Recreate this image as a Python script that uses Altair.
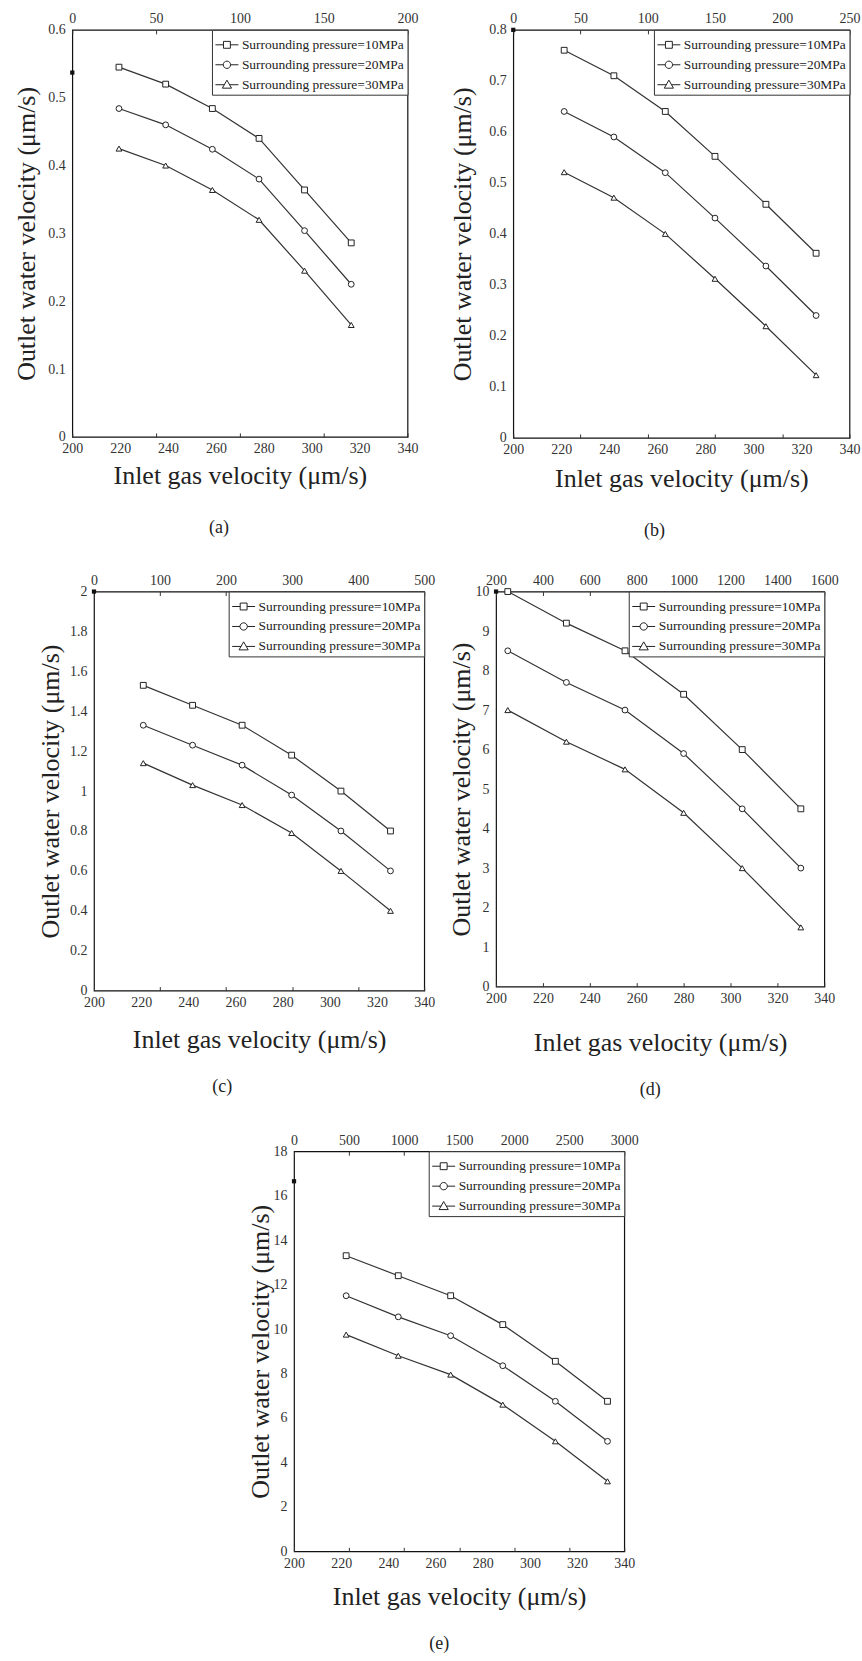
import altair as alt
import pandas as pd

FONT = "Liberation Serif"
SERIES = ["Surrounding pressure=10MPa", "Surrounding pressure=20MPa", "Surrounding pressure=30MPa"]

# ---- panel (a)
a_x = [219.5, 239, 258.5, 278, 297, 316.5]
a_p10 = [0.545, 0.520, 0.484, 0.440, 0.364, 0.286]
a_p20 = [0.484, 0.460, 0.424, 0.380, 0.304, 0.225]
a_p30 = [0.425, 0.400, 0.364, 0.320, 0.245, 0.165]
a_yticks = [0, 0.1, 0.2, 0.3, 0.4, 0.5, 0.6]
a_top = [0, 50, 100, 150, 200]
a_dot = 0.537

# ---- panel (b)
b_x = [221.2, 241.9, 263.3, 284, 305.2, 326.1]
b_p10 = [0.760, 0.710, 0.640, 0.552, 0.458, 0.362]
b_p20 = [0.640, 0.590, 0.520, 0.431, 0.337, 0.240]
b_p30 = [0.521, 0.471, 0.400, 0.312, 0.219, 0.123]
b_yticks = [0, 0.1, 0.2, 0.3, 0.4, 0.5, 0.6, 0.7, 0.8]
b_top = [0, 50, 100, 150, 200, 250]
b_dot = 0.8

# ---- panel (c)
c_x = [220.9, 241.8, 262.8, 283.8, 304.7, 325.7]
c_p10 = [1.53, 1.43, 1.33, 1.18, 1.00, 0.80]
c_p20 = [1.33, 1.23, 1.13, 0.98, 0.80, 0.60]
c_p30 = [1.14, 1.03, 0.93, 0.79, 0.60, 0.40]
c_yticks = [0, 0.2, 0.4, 0.6, 0.8, 1, 1.2, 1.4, 1.6, 1.8, 2]
c_top = [0, 100, 200, 300, 400, 500]
c_dot = 2.0

# ---- panel (d)
d_x = [205, 230, 255, 280, 305, 330]
d_p10 = [10.0, 9.2, 8.5, 7.4, 6.0, 4.5]
d_p20 = [8.5, 7.7, 7.0, 5.9, 4.5, 3.0]
d_p30 = [7.0, 6.2, 5.5, 4.4, 3.0, 1.5]
d_yticks = [0, 1, 2, 3, 4, 5, 6, 7, 8, 9, 10]
d_top = [200, 400, 600, 800, 1000, 1200, 1400, 1600]
d_dot = 10.0

# ---- panel (e)
e_x = [222.1, 244.2, 266.4, 288.5, 310.8, 332.9]
e_p10 = [13.3, 12.4, 11.5, 10.2, 8.55, 6.75]
e_p20 = [11.5, 10.55, 9.7, 8.35, 6.75, 4.95]
e_p30 = [9.75, 8.8, 7.95, 6.6, 4.95, 3.15]
e_yticks = [0, 2, 4, 6, 8, 10, 12, 14, 16, 18]
e_top = [0, 500, 1000, 1500, 2000, 2500, 3000]
e_dot = 16.65

x_ticks = [200, 220, 240, 260, 280, 300, 320, 340]

LEG_PATHS = [
    "M-1,0L-0.3,0M0.3,0L1,0M-0.3,-0.3L0.3,-0.3L0.3,0.3L-0.3,0.3Z",
    "M-1,0L-0.32,0M0.32,0L1,0M-0.32,0A0.32,0.32 0 1,0 0.32,0A0.32,0.32 0 1,0 -0.32,0Z",
    "M-1,0L-0.22,0M0.22,0L1,0M0,-0.4L0.4,0.3L-0.4,0.3Z",
]


def panel(letter, xs, s10, s20, s30, yticks, top_ticks, dot_y, width, height,
          ytitle_off, xtitle_off, cap_dx, cap_off):
    rows = []
    for name, ys in zip(SERIES, [s10, s20, s30]):
        for xv, yv in zip(xs, ys):
            rows.append({"x": xv, "y": yv, "series": name})
    df = pd.DataFrame(rows)
    base = alt.Chart(df)
    xscale = alt.Scale(domain=[200, 340], nice=False, zero=False)
    yscale = alt.Scale(domain=[yticks[0], yticks[-1]], nice=False)
    xenc = alt.X("x:Q", scale=xscale,
                 axis=alt.Axis(orient="bottom", values=x_ticks, ticks=False, tickSize=0,
                               domain=False, grid=False, labelFont=FONT, labelFontSize=14,
                               labelColor="#333", labelPadding=5, labelFlush=False,
                               title="Inlet gas velocity (μm/s)", titleFont=FONT,
                               titleFontSize=26, titleFontWeight="normal", titleColor="#222",
                               titleY=xtitle_off, titleBaseline="middle"))
    xplain = alt.X("x:Q", scale=xscale, axis=None)
    yaxis = alt.Axis(values=yticks, labelExpr="'' + datum.value", ticks=False, tickSize=0,
                     domain=False, grid=False, labelFont=FONT, labelFontSize=14,
                     labelColor="#333", labelPadding=7, labelFlush=False,
                     title="Outlet water velocity (μm/s)", titleFont=FONT,
                     titleFontSize=26, titleFontWeight="normal", titleColor="#222",
                     titleX=-ytitle_off, titleY=height / 2, titleAngle=270,
                     titleAlign="center", titleBaseline="middle")
    yenc = alt.Y("y:Q", scale=yscale, axis=yaxis)

    lines = base.mark_line(color="#333", strokeWidth=1.2).encode(
        x=xenc, y=yenc, detail="series:N")
    pts = base.mark_point(filled=True, fill="white", stroke="#222", strokeWidth=1,
                          size=34, opacity=1).encode(
        x=xplain, y=yenc,
        shape=alt.Shape("series:N", scale=alt.Scale(domain=SERIES,
                                                    range=["square", "circle", "triangle-up"]),
                        legend=None))
    leg = base.mark_point(opacity=0, color="#222").encode(
        x=xplain, y=yenc,
        shape=alt.Shape("series:N", scale=alt.Scale(domain=SERIES, range=LEG_PATHS),
                        legend=alt.Legend(orient="top-right", offset=0, title=None, padding=3,
                                          strokeColor="#333", fillColor="white",
                                          labelFont=FONT, labelFontSize=13.5, labelColor="#222",
                                          symbolSize=529, symbolStrokeWidth=1,
                                          symbolStrokeColor="#222", symbolFillColor="white",
                                          symbolOpacity=1, rowPadding=1, labelOffset=3,
                                          labelLimit=300, cornerRadius=0)))
    dot = alt.Chart(pd.DataFrame({"x": [200], "y": [dot_y]})).mark_square(
        color="#111", size=18, opacity=1, clip=False).encode(x=xplain, y=yenc)

    tdf = pd.DataFrame({"t": top_ticks, "y": [yticks[0]] * len(top_ticks)})
    tscale = alt.Scale(domain=[top_ticks[0], top_ticks[-1]], nice=False, zero=False)
    top = alt.Chart(tdf).mark_point(opacity=0).encode(
        x=alt.X("t:Q", scale=tscale,
                axis=alt.Axis(orient="top", values=top_ticks, format="d", offset=-4,
                              domain=False, ticks=True, tickSize=4, tickColor="#333",
                              tickWidth=1, grid=False, labelFont=FONT, labelFontSize=14,
                              labelColor="#333", labelPadding=4, labelFlush=False,
                              title=None)),
        y=yenc)
    bot = alt.Chart(tdf).mark_point(opacity=0).encode(
        x=alt.X("t:Q", scale=tscale,
                axis=alt.Axis(orient="bottom", values=top_ticks, offset=-4, domain=False,
                              ticks=True, tickSize=4, tickColor="#333", tickWidth=1,
                              grid=False, labels=False, title=None)),
        y=yenc)
    return alt.layer(lines, pts, leg, dot, top, bot).resolve_scale(
        x="independent", shape="independent").properties(
        width=width, height=height,
        title=alt.TitleParams(text=letter, orient="bottom", anchor="middle", frame="group",
                              dx=cap_dx, offset=cap_off, font=FONT, fontSize=18,
                              fontWeight="normal", color="#222"))


pa = panel("(a)", a_x, a_p10, a_p20, a_p30, a_yticks, a_top, a_dot, 336, 408, 46, 39, -21, 30)
pb = panel("(b)", b_x, b_p10, b_p20, b_p30, b_yticks, b_top, b_dot, 337, 409, 51, 41, -27, 30)
pc = panel("(c)", c_x, c_p10, c_p20, c_p30, c_yticks, c_top, c_dot, 331, 400, 44, 49, -37, 26)
pd_ = panel("(d)", d_x, d_p10, d_p20, d_p30, d_yticks, d_top, d_dot, 329, 396, 35, 56, -10, 26)
pe = panel("(e)", e_x, e_p10, e_p20, e_p30, e_yticks, e_top, e_dot, 331, 401, 34, 45, -20, 26)

row1 = alt.hconcat(pa, pb, spacing=106, bounds="flush").resolve_scale(
    shape="independent")
row2 = alt.hconcat(pc, pd_, spacing=72, bounds="flush").resolve_scale(
    shape="independent")

chart = alt.vconcat(row1, row2, pe, spacing=32, center=True).resolve_scale(
    shape="independent").properties(
    padding={"left": 12, "top": 9, "right": 1, "bottom": 1}
).configure(background="white", font=FONT).configure_axis(
    labelFont=FONT, titleFont=FONT
).configure_legend(labelFont=FONT).configure_view(stroke="#111", strokeWidth=1.2)

chart.save("out.html", embed_options={"renderer": "svg", "actions": False})
